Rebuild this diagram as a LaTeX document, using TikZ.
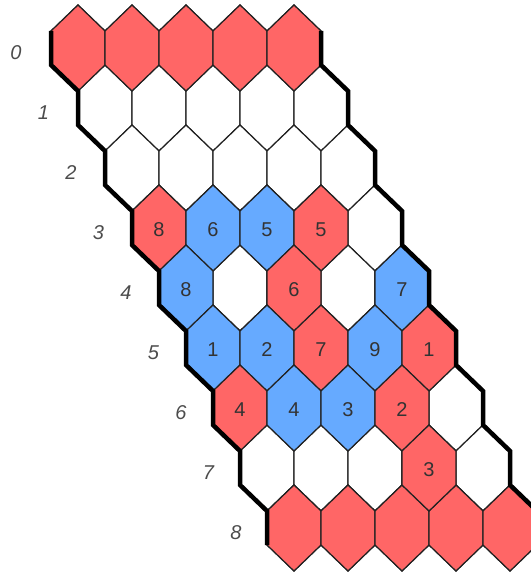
\documentclass[tikz,border=0pt]{standalone}
\usepackage{fontspec}
\newfontfamily\boardfont{Liberation Sans}
\usepackage{xcolor}
\definecolor{hexred}{RGB}{255,102,102}
\definecolor{hexblue}{RGB}{102,170,255}
\definecolor{hexline}{RGB}{34,34,34}
\tikzset{
  hexcell/.style={draw=hexline, line width=1.2pt, line join=miter},
  cellnum/.style={font=\boardfont\fontsize{20}{24}\selectfont, text=black!80, inner sep=0pt},
  rowlabel/.style={font=\boardfont\itshape\fontsize{20}{24}\selectfont, text=black!70, inner sep=0pt},
  border/.style={line width=4.5pt, line join=miter}
}

\begin{document}
\begin{tikzpicture}[x=1pt, y=-1pt]
\useasboundingbox (0,0) rectangle (530,575);
% empty board and row numbers
\foreach \r in {0,...,8}{
  \foreach \c in {0,...,4}{
    \draw[hexcell, fill=white] ({78+54*\c+27*\r},{48+60*\r}) ++(0,-43) -- ++(27,26) -- ++(0,34) -- ++(-27,26) -- ++(-27,-26) -- ++(0,-34) -- cycle;
  }
  \node[rowlabel] (row\r) at ({16+27.5*\r},{53+60*\r}) {\r};
}
% first and last rows
\foreach \r in {0,8}{
  \foreach \c in {0,...,4}{
    \draw[hexcell, fill=hexred] ({78+54*\c+27*\r},{48+60*\r}) ++(0,-43) -- ++(27,26) -- ++(0,34) -- ++(-27,26) -- ++(-27,-26) -- ++(0,-34) -- cycle;
  }
}
% numbered moves
\foreach \r/\c/\col/\num in {3/0/hexred/8, 3/1/hexblue/6, 3/2/hexblue/5, 3/3/hexred/5,
    4/0/hexblue/8, 4/2/hexred/6, 4/4/hexblue/7,
    5/0/hexblue/1, 5/1/hexblue/2, 5/2/hexred/7, 5/3/hexblue/9, 5/4/hexred/1,
    6/0/hexred/4, 6/1/hexblue/4, 6/2/hexblue/3, 6/3/hexred/2,
    7/3/hexred/3}{
  \draw[hexcell, fill=\col] ({78+54*\c+27*\r},{48+60*\r}) ++(0,-43) -- ++(27,26) -- ++(0,34) -- ++(-27,26) -- ++(-27,-26) -- ++(0,-34) -- cycle;
  \node[cellnum] (cell-\r-\c) at ({78+54*\c+27*\r},{50+60*\r}) {\num};
}
% thick edges
\draw[border] (51,31) \foreach \r in {0,...,7}{ -- ({51+27*\r},{65+60*\r}) -- ({78+27*\r},{91+60*\r}) } -- (267,545);
\draw[border] (321,31) \foreach \r in {0,...,7}{ -- ({321+27*\r},{65+60*\r}) -- ({348+27*\r},{91+60*\r}) } -- (537,545);
\end{tikzpicture}
\end{document}
